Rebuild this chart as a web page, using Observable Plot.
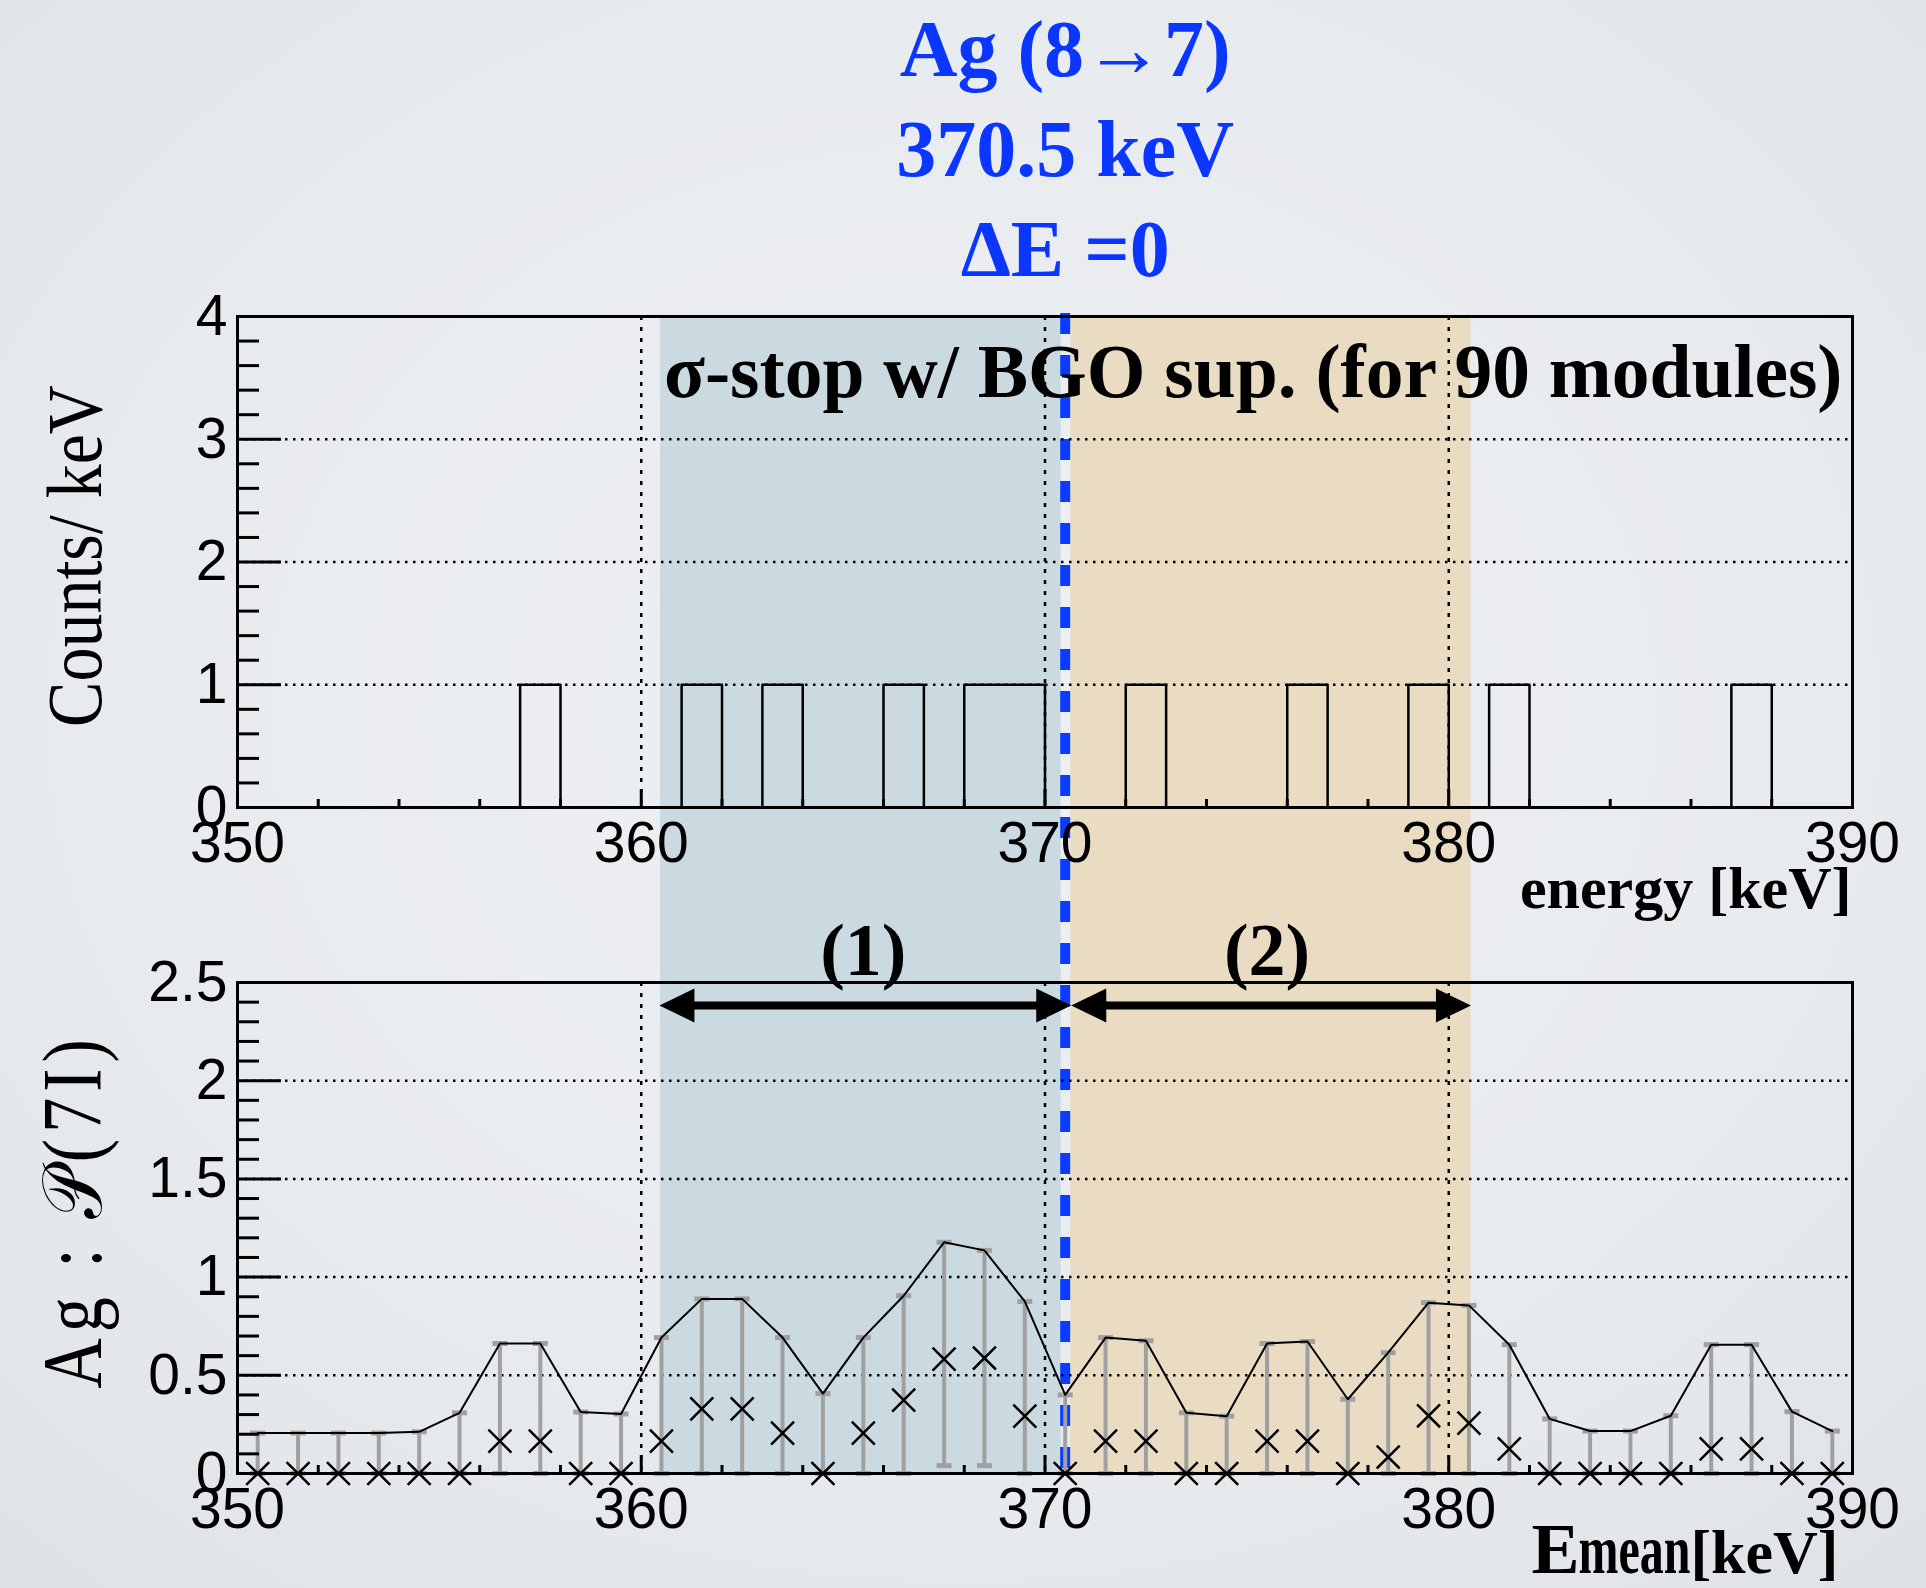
<!DOCTYPE html>
<html><head><meta charset="utf-8">
<script src="https://cdn.jsdelivr.net/npm/d3@7"></script>
<script src="https://cdn.jsdelivr.net/npm/@observablehq/plot@0.6"></script>
<style>
html,body{margin:0;padding:0;overflow:hidden;}
#wrap{position:relative;width:1926px;height:1588px;
  background:radial-gradient(ellipse 75% 75% at 50% 45%, #eef0f3 0%, #e8ebee 60%, #dee2e6 100%);}
#wrap svg{position:absolute;left:0;}
</style></head><body><div id="wrap"></div>
<script>
// ---------------- data ----------------
const energyDomain = [350, 390];
const countsDomain = [0, 4];
const probDomain = [0, 2.5];

// histogram bin centres (1 keV bins) and counts per keV
const binCenters = [350.5,351.5,352.5,353.5,354.5,355.5,356.5,357.5,358.5,359.5,
  360.5,361.5,362.5,363.5,364.5,365.5,366.5,367.5,368.5,369.5,
  370.5,371.5,372.5,373.5,374.5,375.5,376.5,377.5,378.5,379.5,
  380.5,381.5,382.5,383.5,384.5,385.5,386.5,387.5,388.5,389.5];
const counts = [0,0,0,0,0,0,0,1,0,0,
  0,1,0,1,0,0,1,0,1,1,
  0,0,1,0,0,0,1,0,0,1,
  0,1,0,0,0,0,0,1,0,0];

// lower panel: E_mean, central value (x), upper and lower limits
const pMean = [0,0,0,0,0,0,0.165,0.165,0,0,
  0.165,0.329,0.329,0.206,0,0.206,0.374,0.582,0.588,0.292,
  0,0.165,0.165,0,0,0.165,0.165,0,0.084,0.294,
  0.257,0.125,0,0,0,0,0.125,0.125,0,0];
const pUpper = [0.206,0.206,0.206,0.206,0.212,0.309,0.662,0.662,0.313,0.303,
  0.692,0.889,0.889,0.692,0.407,0.692,0.905,1.177,1.136,0.876,
  0.400,0.692,0.676,0.309,0.292,0.662,0.672,0.378,0.615,0.870,
  0.856,0.656,0.278,0.216,0.216,0.294,0.656,0.656,0.315,0.216];
const pLower = [0,0,0,0,0,0,0,0,0,0,
  0,0,0,0,0,0,0,0.04,0.04,0,
  0,0,0,0,0,0,0,0,0,0,
  0,0,0,0,0,0,0,0,0,0];

const lineEnergy = 370.5;
const titleLines = ["Ag (8→7)", "370.5 keV", "ΔE =0"];
const panelText = "σ-stop w/ BGO sup. (for 90 modules)";
const bandBlue = [360.48, 370.4];
const bandTan = [370.64, 380.55];
const arrowSpans = [[360.45, 370.65], [370.65, 380.55]];
const arrowLabels = ["(1)", "(2)"];
const arrowLabelX = [365.5, 375.5];
const arrowY = 2.383;
const arrowLabelY = 2.66;

const xTickLabels = [350, 360, 370, 380, 390];
const xMajor = [360, 370, 380];
const xMinor = [352,354,356,358,362,364,366,368,372,374,376,378,382,384,386,388];
const yTopLabels = [0, 1, 2, 3, 4];
const yTopGrid = [1, 2, 3];
const yTopMinor = d3.range(1, 20).filter(i => i % 5 !== 0).map(i => i / 5);
const yBotLabels = [0, 0.5, 1, 1.5, 2, 2.5];
const yBotGrid = [0.5, 1, 1.5, 2];
const yBotMinor = d3.range(1, 25).filter(i => i % 5 !== 0).map(i => i / 10);

(function () {
// ---------------- styles ----------------
const W = 1926, H = 1588, SPLIT = 920;
const ML = 237, MR = 74;
const SANS = "Liberation Sans, Arial, sans-serif";
const SERIF = "Liberation Serif, Times New Roman, serif";
const BLUE_TXT = "#0a36ff";
const BLUE_LINE = "#0a3cff";
const BAND_BLUE = "#cadae0";
const BAND_TAN = "#eadcc2";
const GREY = "#a0a0a0";
const TICK_FS = 57;

const hist = binCenters.map((e, i) => ({e, c: counts[i]}));
const pts = binCenters.map((e, i) => ({e, mid: pMean[i], hi: pUpper[i], lo: pLower[i]}));
const arrows = arrowSpans.map((s, i) => ({x1: s[0], x2: s[1], label: arrowLabels[i], lx: arrowLabelX[i]}));

const capSymbol = {draw(ctx) { ctx.moveTo(-7.5, -2.5); ctx.lineTo(7.5, -2.5); ctx.lineTo(7.5, 2.5); ctx.lineTo(-7.5, 2.5); ctx.closePath(); }};
const headLeft = {draw(ctx) { ctx.moveTo(0, 0); ctx.lineTo(35, -17); ctx.lineTo(35, 17); ctx.closePath(); }};
const headRight = {draw(ctx) { ctx.moveTo(0, 0); ctx.lineTo(-35, -17); ctx.lineTo(-35, 17); ctx.closePath(); }};

function gridMarks(yGrid) {
  return [
    Plot.gridY({ticks: yGrid, stroke: "#000", strokeOpacity: 1, strokeWidth: 2.5, strokeDasharray: "2.5,5.5"}),
    Plot.gridX({ticks: xMajor, stroke: "#000", strokeOpacity: 1, strokeWidth: 2.5, strokeDasharray: "4,7"})
  ];
}
function tickMarks(yLabels, yMinor) {
  return [
    Plot.axisX({ticks: xMajor, tickSize: -18, strokeWidth: 3, tickFormat: () => "", label: null}),
    Plot.axisX({ticks: xMinor, tickSize: -8, strokeWidth: 3, tickFormat: () => "", label: null}),
    Plot.axisY({ticks: yLabels, tickSize: -44, strokeWidth: 3, tickFormat: () => "", label: null}),
    Plot.axisY({ticks: yMinor, tickSize: -22, strokeWidth: 3, tickFormat: () => "", label: null}),
    Plot.axisX({ticks: xTickLabels, tickSize: 0, tickPadding: 14, fontSize: TICK_FS, fontFamily: SANS, label: null, tickFormat: d => String(d)}),
    Plot.axisY({ticks: yLabels, tickSize: 0, tickPadding: 10, fontSize: TICK_FS, fontFamily: SANS, label: null, tickFormat: d => String(d)}),
    Plot.frame({stroke: "#000", strokeWidth: 3})
  ];
}

// background layer: shaded regions + dashed line, spanning both panels
const bgPlot = Plot.plot({
  width: W, height: H, marginTop: 316, marginBottom: 115, marginLeft: ML, marginRight: MR,
  x: {domain: energyDomain, axis: null}, y: {domain: [0, 1], axis: null},
  style: {background: "transparent", overflow: "visible"},
  marks: [
    Plot.rect([bandBlue], {x1: d => d[0], x2: d => d[1], fill: BAND_BLUE}),
    Plot.rect([bandTan], {x1: d => d[0], x2: d => d[1], fill: BAND_TAN}),
    Plot.ruleX([lineEnergy], {x: d => d, stroke: BLUE_LINE, strokeWidth: 10, strokeDasharray: "21,21", insetTop: -3})
  ]
});

// upper panel
const topPlot = Plot.plot({
  width: W, height: SPLIT, marginTop: 316, marginBottom: SPLIT - 807, marginLeft: ML, marginRight: MR,
  x: {domain: energyDomain}, y: {domain: countsDomain},
  style: {background: "transparent", overflow: "visible"},
  marks: [
    ...gridMarks(yTopGrid),
    Plot.line(hist, {x: "e", y: "c", curve: "step", stroke: "#000", strokeWidth: 2.5}),
    ...tickMarks(yTopLabels, yTopMinor),
    Plot.text([{x: lineEnergy, text: titleLines.join("\n")}], {x: "x", text: "text", frameAnchor: "top",
      lineAnchor: "bottom", dy: -41, lineHeight: 1.25, fontSize: 80, fontWeight: "bold", fontFamily: SERIF, fill: BLUE_TXT}),
    Plot.text([panelText], {text: d => d, frameAnchor: "top-right", textAnchor: "end", lineAnchor: "bottom",
      dx: -10, dy: 80, fontSize: 75.5, fontWeight: "bold", fontFamily: SERIF, fill: "#000"}),
    Plot.text(["energy [keV]"], {text: d => d, frameAnchor: "bottom-right", textAnchor: "end", lineAnchor: "bottom",
      dx: -1, dy: 100, fontSize: 60, fontWeight: "bold", fontFamily: SERIF, fill: "#000"}),
    Plot.text(["Counts/ keV"], {text: d => d, frameAnchor: "left", rotate: -90, textAnchor: "middle", lineAnchor: "middle",
      dx: -162, dy: -6, fontSize: 68, fontFamily: SERIF, fill: "#000"})
  ]
});

// lower panel
const botPlot = Plot.plot({
  width: W, height: H - SPLIT, marginTop: 982 - SPLIT, marginBottom: H - 1473, marginLeft: ML, marginRight: MR,
  x: {domain: energyDomain}, y: {domain: probDomain},
  style: {background: "transparent", overflow: "visible"},
  marks: [
    ...gridMarks(yBotGrid),
    Plot.ruleX(pts, {x: "e", y1: "lo", y2: "hi", stroke: GREY, strokeWidth: 4}),
    Plot.dot(pts, {x: "e", y: "hi", symbol: capSymbol, fill: GREY, stroke: "none"}),
    Plot.dot(pts, {x: "e", y: "lo", symbol: capSymbol, fill: GREY, stroke: "none"}),
    Plot.line(pts, {x: "e", y: "hi", stroke: "#000", strokeWidth: 2}),
    Plot.dot(pts, {x: "e", y: "mid", symbol: "times", r: 10.5, stroke: "#000", strokeWidth: 2.5}),
    ...tickMarks(yBotLabels, yBotMinor),
    Plot.ruleY(arrows, {x1: "x1", x2: "x2", y: () => arrowY, stroke: "#000", strokeWidth: 8, insetLeft: 30, insetRight: 30}),
    Plot.dot(arrows, {x: "x1", y: () => arrowY, symbol: headLeft, fill: "#000", stroke: "none"}),
    Plot.dot(arrows, {x: "x2", y: () => arrowY, symbol: headRight, fill: "#000", stroke: "none"}),
    Plot.text(arrows, {x: "lx", y: () => arrowLabelY, text: "label", lineAnchor: "middle",
      fontSize: 74, fontWeight: "bold", fontFamily: SERIF, fill: "#000"}),
    Plot.text(["E"], {text: d => d, frameAnchor: "bottom-right", textAnchor: "end", lineAnchor: "bottom",
      dx: -273, dy: 99, fontSize: 72, fontWeight: "bold", fontFamily: SERIF, fill: "#000"}),
    Plot.text(["mean"], {text: d => d, frameAnchor: "bottom-right", textAnchor: "end", lineAnchor: "bottom",
      dx: -162, dy: 99, fontSize: 48, fontWeight: "bold", fontFamily: SERIF, fill: "#000"}),
    Plot.text(["[keV]"], {text: d => d, frameAnchor: "bottom-right", textAnchor: "end", lineAnchor: "bottom",
      dx: -14, dy: 99, fontSize: 62, fontWeight: "bold", fontFamily: SERIF, fill: "#000"}),
    Plot.text(["Ag : 𝒫(7I)"], {text: d => d, frameAnchor: "left", rotate: -90, textAnchor: "middle", lineAnchor: "middle",
      dx: -163, dy: -17, fontSize: 70, fontFamily: SERIF, fill: "#000"})
  ]
});

function stretch(svg, content, sy, spacing) {
  d3.select(svg).selectAll("text").filter(function() { return this.textContent === content; })
    .each(function() {
      const t = this.getAttribute("transform") || "";
      this.setAttribute("transform", t + ` scale(1,${sy})`);
      if (spacing) this.setAttribute("letter-spacing", spacing);
    });
}
stretch(topPlot, "Counts/ keV", 1.15);
stretch(botPlot, "Ag : 𝒫(7I)", 1.2, 6);
stretch(botPlot, "mean", 1.45);

const wrap = document.getElementById("wrap");
bgPlot.style.top = "0px";
topPlot.style.top = "0px";
botPlot.style.top = SPLIT + "px";
wrap.appendChild(bgPlot);
wrap.appendChild(topPlot);
wrap.appendChild(botPlot);
})();
</script></body></html>
